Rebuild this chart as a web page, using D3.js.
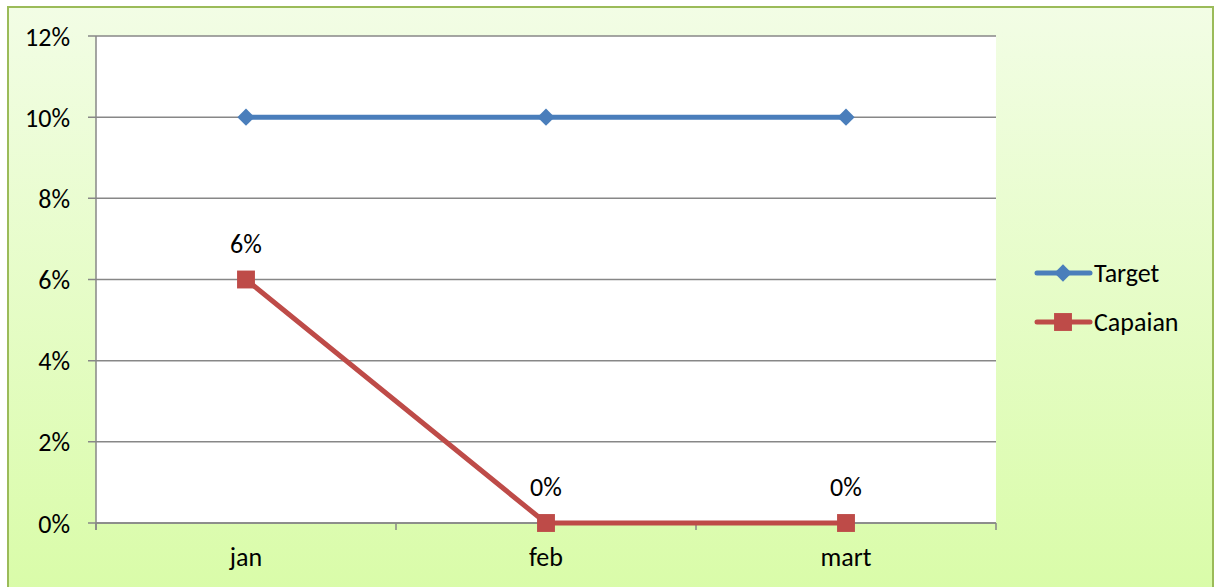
<!DOCTYPE html>
<html>
<head>
<meta charset="utf-8">
<script src="https://cdn.jsdelivr.net/npm/d3@7/dist/d3.min.js"></script>
<style>
  body { margin: 0; background: #fff; }
  svg text { font-family: Carlito, Calibri, "Open Sans", sans-serif; fill: #000; }
</style>
</head>
<body>
<svg id="chart" width="1214" height="587"></svg>
<script>
const months = ['jan', 'feb', 'mart'];
const target = [0.10, 0.10, 0.10];
const capaian = [0.06, 0, 0];
const capaianLabels = ['6%', '0%', '0%'];
const yTicks = [0, 0.02, 0.04, 0.06, 0.08, 0.10, 0.12];

const FS = 26;
const svg = d3.select('svg#chart');

// chart background with soft green gradient
const grad = svg.append('defs').append('linearGradient')
  .attr('id', 'bg').attr('x1', 0).attr('y1', 0).attr('x2', 0).attr('y2', 1);
grad.append('stop').attr('offset', '0%').attr('stop-color', '#f2fde5');
grad.append('stop').attr('offset', '100%').attr('stop-color', '#d9fca8');

svg.append('rect')
  .attr('x', 8).attr('y', 7).attr('width', 1205).attr('height', 590)
  .attr('fill', 'url(#bg)')
  .attr('stroke', '#9bbb59').attr('stroke-width', 2);

const plot = { left: 96, right: 996, top: 36, bottom: 523 };

const x = d3.scaleBand().domain(months).range([plot.left, plot.right]);
const y = d3.scaleLinear().domain([0, 0.12]).range([plot.bottom, plot.top]);

svg.append('rect')
  .attr('x', plot.left).attr('y', plot.top)
  .attr('width', plot.right - plot.left).attr('height', plot.bottom - plot.top)
  .attr('fill', '#fff');

// gridlines
svg.append('g')
  .selectAll('line')
  .data(yTicks)
  .enter()
  .append('line')
  .attr('x1', plot.left - 8).attr('x2', plot.right)
  .attr('y1', d => y(d)).attr('y2', d => y(d))
  .attr('stroke', '#878787').attr('stroke-width', 1.5);

// y axis
const yAxis = svg.append('g')
  .attr('transform', `translate(${plot.left},0)`)
  .call(d3.axisLeft(y).tickValues(yTicks).tickFormat(d3.format('.0%')).tickSize(0).tickPadding(26));
yAxis.select('.domain').attr('stroke', '#878787').attr('stroke-width', 1.5)
  .attr('d', `M0,${plot.top}V${plot.bottom + 7}`);
yAxis.selectAll('text').attr('font-size', FS).attr('dy', '0.35em');

// x axis
const xAxis = svg.append('g')
  .attr('transform', `translate(0,${plot.bottom})`)
  .call(d3.axisBottom(x).tickSize(0).tickPadding(24));
xAxis.select('.domain').attr('stroke', '#878787').attr('stroke-width', 1.5)
  .attr('d', `M${plot.left},0H${plot.right}`);
xAxis.selectAll('text').attr('font-size', FS).attr('dy', '0.72em');
const edges = months.map(m => x(m)).concat([plot.right]);
xAxis.append('g').selectAll('line')
  .data(edges)
  .enter()
  .append('line')
  .attr('x1', d => d).attr('x2', d => d)
  .attr('y1', 0).attr('y2', 7)
  .attr('stroke', '#878787').attr('stroke-width', 1.5);

const cx = d => x(d) + x.bandwidth() / 2;

const line = d3.line().x(d => cx(d.m)).y(d => y(d.v));
const targetData = months.map((m, i) => ({ m, v: target[i] }));
const capaianData = months.map((m, i) => ({ m, v: capaian[i] }));

svg.append('path').datum(targetData)
  .attr('fill', 'none').attr('stroke', '#4a7ebb').attr('stroke-width', 5)
  .attr('d', line);
svg.append('path').datum(capaianData)
  .attr('fill', 'none').attr('stroke', '#be4b48').attr('stroke-width', 5)
  .attr('d', line);

const diamond = d3.symbol().type(d3.symbolDiamond2).size(190);
const square = d3.symbol().type(d3.symbolSquare).size(320);

svg.append('g').selectAll('path')
  .data(targetData)
  .enter()
  .append('path')
  .attr('d', diamond)
  .attr('transform', d => `translate(${cx(d.m)},${y(d.v)})`)
  .attr('fill', '#4a7ebb');

svg.append('g').selectAll('path')
  .data(capaianData)
  .enter()
  .append('path')
  .attr('d', square)
  .attr('transform', d => `translate(${cx(d.m)},${y(d.v)})`)
  .attr('fill', '#be4b48');

// data labels
svg.append('g').selectAll('text')
  .data(capaianData)
  .enter()
  .append('text')
  .text((d, i) => capaianLabels[i])
  .attr('x', d => cx(d.m))
  .attr('y', d => y(d.v) - 36)
  .attr('dy', '0.35em')
  .attr('text-anchor', 'middle')
  .attr('font-size', FS);

// legend
const legend = svg.append('g');
const series = [
  { name: 'Target', color: '#4a7ebb', sym: diamond, yy: 273 },
  { name: 'Capaian', color: '#be4b48', sym: square, yy: 322 }
];
series.forEach(s => {
  legend.append('line')
    .attr('x1', 1037).attr('x2', 1090).attr('y1', s.yy).attr('y2', s.yy)
    .attr('stroke', s.color).attr('stroke-width', 5).attr('stroke-linecap', 'round');
  legend.append('path').attr('d', s.sym)
    .attr('transform', `translate(1063,${s.yy})`).attr('fill', s.color);
  legend.append('text').text(s.name)
    .attr('x', 1094).attr('y', s.yy).attr('dy', '0.35em').attr('font-size', FS);
});
</script>
</body>
</html>
